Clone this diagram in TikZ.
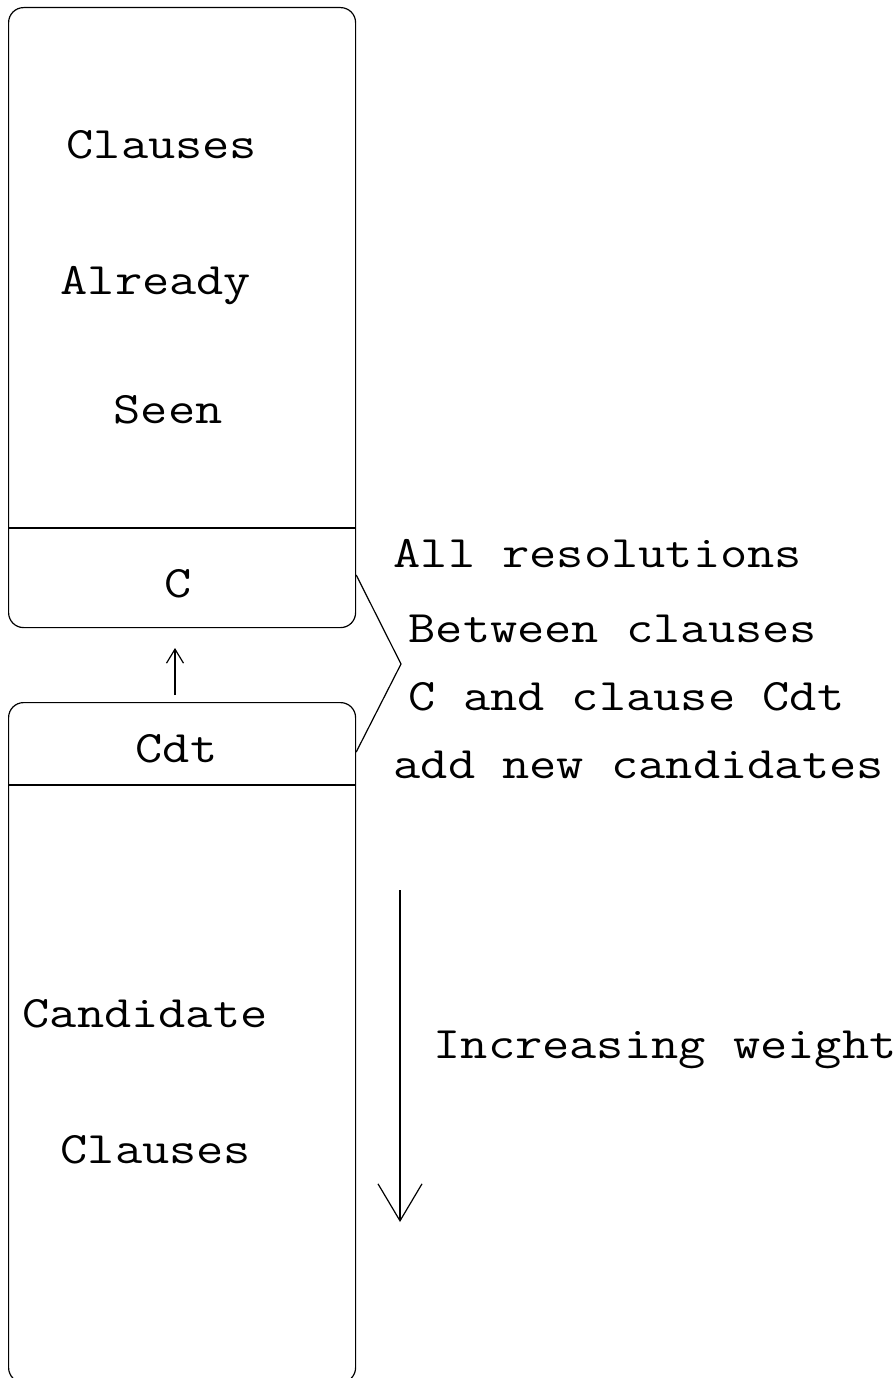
\documentclass[tikz,border=0pt]{standalone}
\usepackage{fontspec}
\setmonofont[FakeStretch=1.175]{Latin Modern Mono}
\usetikzlibrary{arrows.meta}

\begin{document}
\begin{tikzpicture}[x=1pt, y=-1pt, line width=1.2pt,
  lbl/.style={font=\ttfamily\fontsize{45}{54}\selectfont, anchor=base west, inner sep=0pt},
  panel/.style={draw, rounded corners=15pt, inner sep=0pt, anchor=north west, minimum width=347pt},
]
\useasboundingbox (0,0) rectangle (896,1378);

% the two stacks of clauses
\node[panel, minimum height=620pt] (seen) at (8,7) {};
\node[panel, minimum height=680pt] (cand) at (8,702) {};

% separators for the current clause C and the next candidate Cdt
\draw (seen.west |- 0,528) -- (seen.east |- 0,528);
\draw (cand.west |- 0,785) -- (cand.east |- 0,785);

% labels inside the stacks
\node[lbl] (t1) at (66,158) {Clauses};
\node[lbl] (t2) at (60,294) {Already};
\node[lbl] (t3) at (113,423) {Seen};
\node[lbl] (tc) at (164,597) {C};
\node[lbl] (tcdt) at (135,762) {Cdt};
\node[lbl] (t4) at (22,1027) {Candidate};
\node[lbl] (t5) at (60,1163) {Clauses};

% Cdt moves up into the seen stack
\coordinate (up0) at (175,695);
\coordinate (up1) at (175,648);
\draw[-{Straight Barb[length=14pt, width=17pt]}] (up0) -- (up1);

% bracket joining C and Cdt
\coordinate (apex) at (401,664);
\draw (seen.east |- 0,575) -- (apex) -- (cand.east |- 0,752);

% explanation of the resolution step
\node[lbl] (r1) at (393,567) {All resolutions};
\node[lbl] (r2) at (408,642) {Between clauses};
\node[lbl] (r3) at (408,710) {C and clause Cdt};
\node[lbl] (r4) at (393,778) {add new candidates};

% weight ordering of candidates
\coordinate (wtop) at (400,890);
\coordinate (wbot) at (400,1222);
\draw[-{Straight Barb[length=37pt, width=44pt]}] (wtop) -- (wbot);
\node[lbl] (w) at (433,1058) {Increasing weight};
\end{tikzpicture}
\end{document}
